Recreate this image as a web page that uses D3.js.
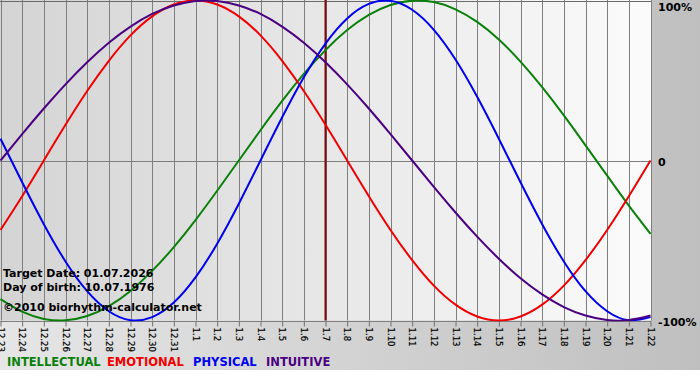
<!DOCTYPE html>
<html>
<head>
<meta charset="utf-8">
<script src="https://cdn.jsdelivr.net/npm/d3@7"></script>
<style>
html,body{margin:0;padding:0;background:#fff;}
svg{display:block;}
</style>
</head>
<body>
<svg id="chart" width="700" height="380"></svg>
<script>
// ---- data ----
const dayLabels = ["12.23","12.24","12.25","12.26","12.27","12.28","12.29","12.30","12.31","1.1","1.2","1.3","1.4","1.5","1.6","1.7","1.8","1.9","1.10","1.11","1.12","1.13","1.14","1.15","1.16","1.17","1.18","1.19","1.20","1.21","1.22"];
const targetLabel = "1.7";
const intellectual = [-0.866,-0.945,-0.990,-0.999,-0.972,-0.910,-0.815,-0.690,-0.541,-0.372,-0.189,0,0.189,0.372,0.541,0.690,0.815,0.910,0.972,0.999,0.990,0.945,0.866,0.756,0.618,0.458,0.282,0.095,-0.095,-0.282,-0.458];
const emotional = [-0.434,-0.223,0,0.223,0.434,0.623,0.782,0.901,0.975,1,0.975,0.901,0.782,0.623,0.434,0.223,0,-0.223,-0.434,-0.623,-0.782,-0.901,-0.975,-1,-0.975,-0.901,-0.782,-0.623,-0.434,-0.223,0];
const physical = [0.136,-0.136,-0.398,-0.631,-0.817,-0.942,-0.998,-0.979,-0.888,-0.731,-0.520,-0.270,0,0.270,0.520,0.731,0.888,0.979,0.998,0.942,0.817,0.631,0.398,0.136,-0.136,-0.398,-0.631,-0.817,-0.942,-0.998,-0.979];
const intuitive = [0,0.165,0.325,0.476,0.614,0.736,0.837,0.916,0.969,0.997,0.997,0.969,0.916,0.837,0.736,0.614,0.476,0.325,0.165,0,-0.165,-0.325,-0.476,-0.614,-0.736,-0.837,-0.916,-0.969,-0.997,-0.997,-0.969];
const seriesNames = ["INTELLECTUAL","EMOTIONAL","PHYSICAL","INTUITIVE"];
const yTickValues = [1, 0, -1];
const yTickLabels = ["100%","0","-100%"];
const infoLines = ["Target Date: 01.07.2026","Day of birth: 10.07.1976","\u00A92010 biorhythm-calculator.net"];

// ---- layout ----
const svg = d3.select("#chart");
const plot = {left:0.5, right:651, top:0.5, bottom:320.5};
const colors = {"INTELLECTUAL":"#0a800a","EMOTIONAL":"#f00000","PHYSICAL":"#0000f0","INTUITIVE":"#4b0082"};
const seriesData = {"INTELLECTUAL":intellectual,"EMOTIONAL":emotional,"PHYSICAL":physical,"INTUITIVE":intuitive};

const defs = svg.append("defs");
const gFrame = defs.append("linearGradient").attr("id","frameGrad").attr("x1","0").attr("x2","1").attr("y1","0").attr("y2","0");
gFrame.append("stop").attr("offset","0").attr("stop-color","#e6e6e6");
gFrame.append("stop").attr("offset","1").attr("stop-color","#bfbfbf");
const gPlot = defs.append("linearGradient").attr("id","plotGrad").attr("x1","0").attr("x2","1").attr("y1","0").attr("y2","0");
gPlot.append("stop").attr("offset","0").attr("stop-color","#d4d4d4");
gPlot.append("stop").attr("offset","1").attr("stop-color","#fbfbfb");
defs.append("clipPath").attr("id","plotClip").append("rect")
  .attr("x",plot.left-1).attr("y",plot.top-1).attr("width",plot.right-plot.left+2).attr("height",plot.bottom-plot.top+2);

svg.append("rect").attr("x",0).attr("y",0).attr("width",700).attr("height",370).attr("fill","url(#frameGrad)");
svg.append("rect").attr("x",0).attr("y",0).attr("width",plot.right).attr("height",plot.bottom).attr("fill","url(#plotGrad)");

const x = d3.scalePoint().domain(dayLabels).range([plot.left, plot.right - 0.5]);
const y = d3.scaleLinear().domain([-1,1]).range([plot.bottom, plot.top]);

// vertical grid
svg.append("g").selectAll("line").data(dayLabels).join("line")
  .attr("x1",d=>Math.round(x(d))+0.5).attr("x2",d=>Math.round(x(d))+0.5)
  .attr("y1",0).attr("y2",plot.bottom)
  .attr("stroke","#7f7f7f").attr("stroke-width",1);
// horizontal grid
svg.append("g").selectAll("line").data(yTickValues).join("line")
  .attr("x1",0).attr("x2",plot.right)
  .attr("y1",d=>Math.round(y(d))+0.5).attr("y2",d=>Math.round(y(d))+0.5)
  .attr("stroke",(d)=>d===1?"#6a6a6a":"#7f7f7f").attr("stroke-width",1);

// bottom axis
const xAxis = d3.axisBottom(x).tickSize(5).tickPadding(3);
const ax = svg.append("g").attr("transform",`translate(0,${Math.round(plot.bottom)+0.5})`).call(xAxis);
ax.select(".domain").remove();
ax.selectAll(".tick line").attr("stroke","#707070");
ax.selectAll(".tick text")
  .attr("transform","rotate(90)")
  .attr("text-anchor","start")
  .attr("x",6).attr("y",0).attr("dy","0.34em")
  .style("font-family","'DejaVu Sans Condensed','DejaVu Sans',sans-serif")
  .style("font-stretch","condensed")
  .style("font-size","9.5px")
  .attr("fill","#000")
  .attr("stroke","#000").attr("stroke-width",0.2);

// target line
svg.append("line")
  .attr("x1",x(targetLabel)).attr("x2",x(targetLabel))
  .attr("y1",0).attr("y2",plot.bottom)
  .attr("stroke","#7a0a0a").attr("stroke-width",2);

// series
const line = d3.line().x((d,i)=>x(dayLabels[i])).y(d=>y(d)).curve(d3.curveNatural);
const gLines = svg.append("g").attr("clip-path","url(#plotClip)");
seriesNames.forEach(name=>{
  gLines.append("path").datum(seriesData[name])
    .attr("d",line).attr("fill","none")
    .attr("stroke",colors[name]).attr("stroke-width",2);
});

// right labels
svg.append("g").selectAll("text").data(yTickValues).join("text")
  .attr("x",658).attr("y",d=>Math.max(y(d)+5,11))
  .text((d,i)=>yTickLabels[i])
  .style("font-family","'DejaVu Sans',sans-serif").style("font-weight","bold").style("font-size","11px")
  .attr("fill","#000");

// info text
const infoY = [277, 290.5, 310.5];
svg.append("g").selectAll("text").data(infoLines).join("text")
  .attr("x",3).attr("y",(d,i)=>infoY[i]).text(d=>d)
  .style("font-family","'DejaVu Sans',sans-serif").style("font-weight","bold").style("font-size","11px")
  .attr("fill","#000");

// legend
const legendX = [7, 107, 193, 266];
svg.append("g").selectAll("text").data(seriesNames).join("text")
  .attr("x",(d,i)=>legendX[i]).attr("y",366).text(d=>d)
  .style("font-family","'DejaVu Sans',sans-serif").style("font-weight","bold").style("font-size","11.5px")
  .attr("fill",d=>colors[d]);
</script>
</body>
</html>
